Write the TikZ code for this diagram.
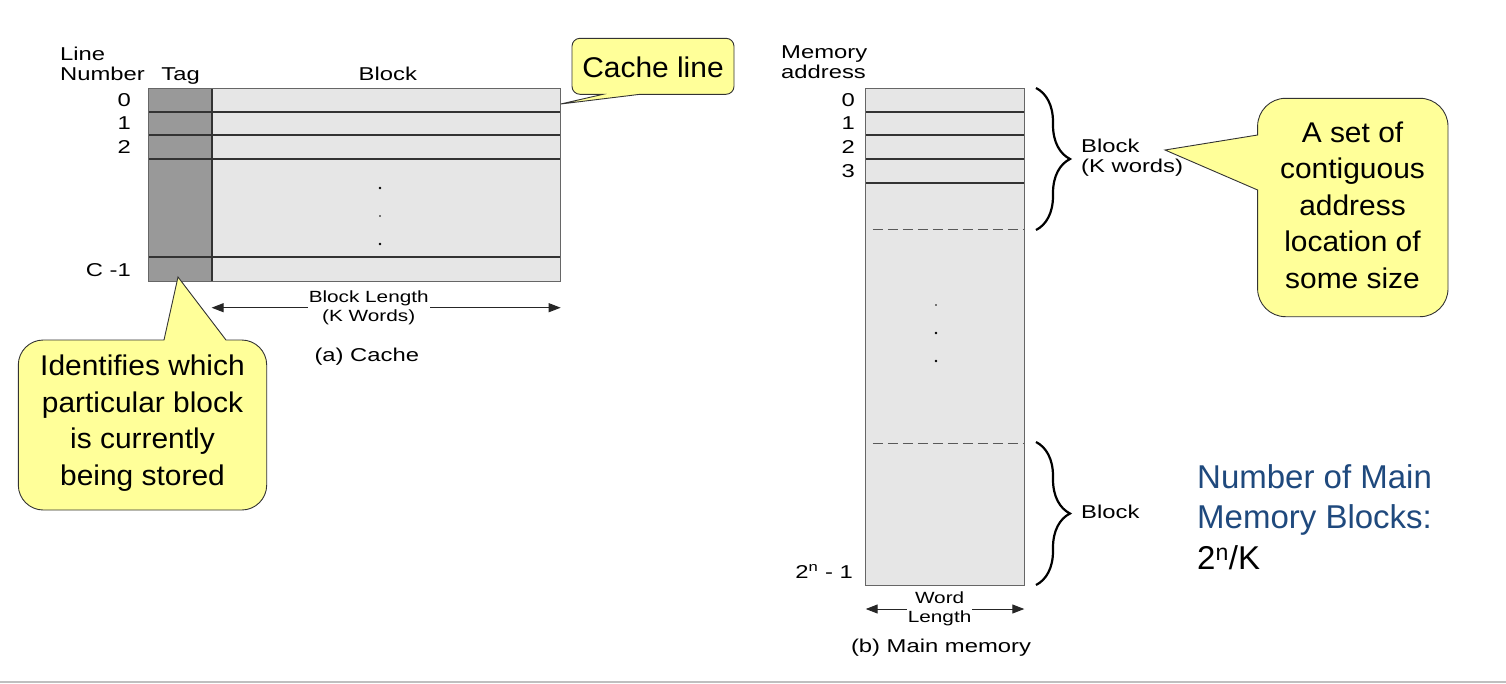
\documentclass[tikz,border=0pt]{standalone}
\usepackage{fontspec}
\setmainfont{Liberation Sans}
\newfontfamily\figfont[FakeStretch=1.28]{Liberation Sans}
\newfontfamily\callfont[FakeStretch=1.05]{Liberation Sans}
\usetikzlibrary{positioning,arrows.meta,calc,decorations.pathreplacing}
\definecolor{tagfill}{HTML}{999999}
\definecolor{cellfill}{HTML}{E6E6E6}
\definecolor{noteyel}{HTML}{FFFF99}
\definecolor{noteblue}{HTML}{1F497D}
\definecolor{linegray}{HTML}{333333}
\tikzset{
  lbl/.style     ={inner sep=0pt, font=\figfont\fontsize{18.6}{20}\selectfont},
  dimlbl/.style  ={inner sep=1pt, fill=white, align=center,
                   font=\figfont\fontsize{16.2}{19}\selectfont},
  callbox/.style ={draw=black!80, fill=noteyel, line width=0.9pt},
  calltxt/.style ={align=center, inner sep=0pt,
                   font=\callfont\fontsize{28.5}{36.5}\selectfont},
  rowline/.style ={draw=linegray, line width=1.8pt},
  dashline/.style={draw=black!65, line width=1.5pt, dash pattern=on 10pt off 5pt},
  cellframe/.style={draw=black!60, line width=1.3pt},
  dimarrow/.style={draw=black!85, line width=1pt,
                   {Triangle[length=12pt,width=9pt]}-{Triangle[length=12pt,width=9pt]}},
  blockbrace/.style={draw=black, line width=2.2pt, decorate,
                   decoration={brace, amplitude=34pt}},
}
\begin{document}
\begin{tikzpicture}[x=1pt,y=-1pt]
\useasboundingbox (0,0) rectangle (1506,683);

% (a) cache
\fill[cellfill] (148.5,88.3) rectangle (560.7,281.3);
\fill[tagfill]  (148.5,88.3) rectangle (211.6,281.3);
\foreach \y in {112,134.7,159,257} \draw[rowline] (148.5,\y) -- (560.7,\y);
\draw[rowline] (211.6,88.3) -- (211.6,281.3);
\draw[cellframe] (148.5,88.3) rectangle (560.7,281.3);
\foreach \y/\r in {188/1.4,216/0.9,244/1.4} \fill (380,\y) circle (\r);
\node[lbl, anchor=west, align=left] (linehd) at (60,63.5) {Line\\Number};
\node[lbl, anchor=base] (taghd) at (180.6,80) {Tag};
\node[lbl, anchor=base] (blockhd) at (387.8,80) {Block};
\foreach \n/\y/\t in {r0/100/0, r1/123.5/1, r2/147/2, rc/270/C -1}
  \node[lbl, anchor=east] (c\n) at (131,\y) {\t};
\coordinate (blenL) at (211.6,307.7);
\coordinate (blenR) at (560.7,307.7);
\draw[dimarrow] (blenL) -- node[dimlbl, pos=0.45] (blen) {Block Length\\(K Words)} (blenR);
\node[lbl] (capa) at (366.8,357) {(a) Cache};

% (b) main memory
\fill[cellfill] (865.7,88.3) rectangle (1024.3,585.7);
\foreach \y in {111.7,135,159,182.7} \draw[rowline] (865.7,\y) -- (1024.3,\y);
\foreach \y in {229.3,443.3} \draw[dashline] (872.9,\y) -- (1024.3,\y);
\draw[cellframe] (865.7,88.3) rectangle (1024.3,585.7);
\foreach \y/\r in {305/0.9,333/1.4,361/1.4} \fill (936,\y) circle (\r);
\node[lbl, anchor=west, align=left] (addrhd) at (781,61.7) {Memory\\address};
\foreach \n/\y in {0/100,1/123.5,2/147,3/171}
  \node[lbl, anchor=east] (m\n) at (855,\y) {\n};
\node[lbl, anchor=base east] (mlast) at (853,578) {2\textsuperscript{n} - 1};
\coordinate (wlenL) at (865.7,609);
\coordinate (wlenR) at (1024.3,609);
\draw[dimarrow] (wlenL) -- node[dimlbl, pos=0.466] (wlen) {Word\\Length} (wlenR);
\node[lbl] (capb) at (941,647.7) {(b) Main memory};

% braces
\coordinate (brAtop) at (1036,88);
\coordinate (brAbot) at (1036,230);
\coordinate (brBtop) at (1036,442);
\coordinate (brBbot) at (1036,585);
\draw[blockbrace] (brAtop) -- (brAbot);
\draw[blockbrace] (brBtop) -- (brBbot);
\node[lbl, anchor=west, align=left] (blkA) at (1081,158) {Block\\(K words)};
\node[lbl, anchor=west] (blkB) at (1081,512) {Block};

% callouts (sharp where the pointer meets the box)
\coordinate (cltip) at (560.7,104);
\draw[callbox] (640,94.3) [rounded corners=8] -- (734,94.3) -- (734,38.3)
  -- (572,38.3) -- (572,94.3) [sharp corners] -- (603,94.3) -- (cltip) -- cycle;
\node[calltxt] (cline) at (653,67) {Cache line};

\coordinate (idtip) at (178,277);
\draw[callbox] (226,340) [rounded corners=25] -- (266.7,340) -- (266.7,510)
  -- (18.3,510) -- (18.3,340) [sharp corners] -- (164,340) -- (idtip) -- cycle;
\node[calltxt] (idnote) at (142.5,423) {Identifies which\\particular block\\is currently\\being stored};

\coordinate (settip) at (1165,150);
\draw[callbox] (1257.6,190) [rounded corners=28] -- (1257.6,316.7) -- (1448,316.7)
  -- (1448,98.3) -- (1257.6,98.3) [sharp corners] -- (1257.6,135) -- (settip) -- cycle;
\node[calltxt] (setnote) at (1352.5,205) {A set of\\contiguous\\address\\location of\\some size};

% count of blocks
\node[anchor=west, align=left, inner sep=0pt, font=\fontsize{33}{40.5}\selectfont] (count)
  at (1197,517) {\textcolor{noteblue}{Number of Main}\\\textcolor{noteblue}{Memory Blocks:}\\2\textsuperscript{n}/K};

\draw[black!25, line width=2pt] (0,681.6) -- (1506,681.6);
\end{tikzpicture}
\end{document}
